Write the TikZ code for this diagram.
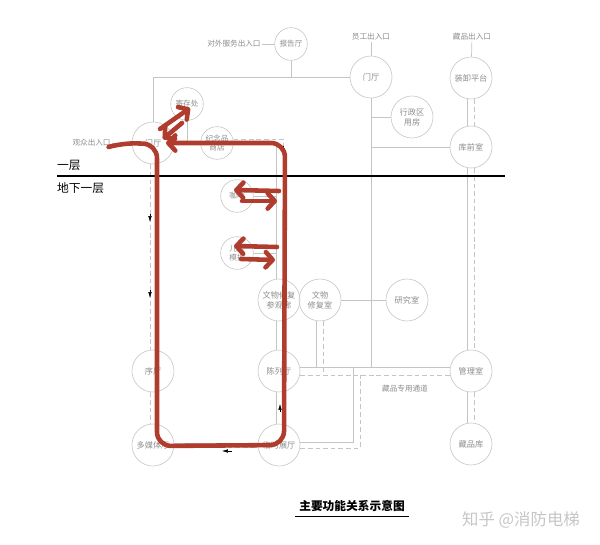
\documentclass[tikz,border=0pt]{standalone}
\usepackage{fontspec}
\setmainfont{Noto Sans CJK SC}
\usetikzlibrary{arrows.meta,calc}

\definecolor{wallgray}{RGB}{196,196,196}
\definecolor{labelgray}{RGB}{140,140,140}
\definecolor{penred}{RGB}{176,60,46}

\tikzset{
  room/.style={circle, draw=wallgray, line width=0.5pt, minimum size=1.26cm,
    inner sep=0pt, align=center, text=labelgray, font=\fontsize{7}{8.5}\selectfont},
  smallroom/.style={room, minimum size=0.98cm, font=\fontsize{6.5}{7.5}\selectfont},
  gate/.style={text=labelgray, font=\fontsize{6.5}{7.5}\selectfont, inner sep=1pt},
  floorname/.style={font=\fontsize{10}{12}\selectfont, inner sep=0pt},
  link/.style={draw=wallgray, line width=0.6pt},
  freight/.style={link, dash pattern=on 4pt off 2.5pt},
  flowmark/.style={black, line width=0.4pt, -{Latex[length=5pt,width=3pt]}},
  pen/.style={draw=penred, line width=3.9pt, line cap=round, line join=round},
  penarrow/.style={pen, -{Straight Barb[length=6pt,width=13pt,round]}},
}

\begin{document}
\begin{tikzpicture}[x=0.03cm, y=-0.03cm]
  \useasboundingbox (0,0) rectangle (600,545);

  % Rooms -- ground floor
  \node[smallroom] (hall-report) at (291,44) {报告厅};
  \node[room] (lobby-staff) at (371,77) {门厅};
  \node[room] (dock) at (471,78) {装卸平台};
  \node[room] (office) at (412,117) {行政区\\用房};
  \node[room] (prestore) at (471,147) {库前室};
  \node[room] (lobby-visitor) at (153,143) {门厅};
  \node[smallroom] (cloak) at (187,104) {寄存处};
  \node[smallroom] (shop) at (217,143) {纪念品\\商店};

  % Rooms -- basement
  \node[smallroom] (cafe) at (237,196) {咖啡};
  \node[smallroom] (kids) at (237,253) {儿童\\模拟};
  \node[room] (restore-view) at (279,300) {文物修复\\参观廊};
  \node[room] (restore) at (320,300) {文物\\修复室};
  \node[room] (research) at (407,300) {研究室};
  \node[room] (prelude) at (153,371) {序厅};
  \node[room] (gallery) at (279,371) {陈列厅};
  \node[room] (manage) at (471,371) {管理室};
  \node[room] (media) at (153,445) {多媒体厅};
  \node[room] (temp) at (279,445) {临时展厅};
  \node[room] (store) at (471,444) {藏品库};

  % Entrances
  \node[gate, anchor=east] (gate-public) at (262,44) {对外服务出入口};
  \node[gate] (gate-staff) at (371,37) {员工出入口};
  \node[gate] (gate-goods) at (472,37) {藏品出入口};
  \node[gate, anchor=east] (gate-visitor) at (112,143) {观众出入口};

  % Links -- ground floor
  \coordinate (ring) at (153,77);
  \draw[link] (gate-public) -- (hall-report);
  \draw[link] (gate-staff) -- (lobby-staff);
  \draw[link] (gate-goods) -- (dock);
  \draw[link] (gate-visitor) -- (lobby-visitor);
  \draw[link] (lobby-visitor) -- (ring) -- (lobby-staff);
  \draw[link] (hall-report) -- (hall-report |- ring);
  \draw[link] (cloak) -- (cloak |- lobby-visitor);
  \draw[link] (lobby-visitor) -- (shop);
  \draw[link] (lobby-staff |- office) -- (office);
  \draw[link] (lobby-staff |- prestore) -- (prestore);
  \draw[link] (lobby-staff) -- ($(lobby-staff)+(0,290)$);

  % -- visitor loop
  \coordinate (corner) at (276,143);
  \coordinate (corner-out) at (283,139);
  \draw[link] (shop) -- (corner) -- (corner |- restore-view.north);
  \draw[freight] ($(shop.east)+(0,-4)$) -- (corner-out) -- (corner-out |- restore-view.north);
  \draw[link] (cafe) -- (cafe -| corner);
  \draw[link] (kids) -- (kids -| corner);
  \draw[link] ($(lobby-visitor.south)+(3,0)$) -- ($(prelude.north)+(3,0)$);
  \draw[link] ($(prelude.south)+(3,0)$) -- ($(media.north)+(3,0)$);
  \draw[freight] ($(lobby-visitor.south)+(-3,0)$) -- ($(prelude.north)+(-3,0)$);
  \draw[freight] ($(prelude.south)+(-3,0)$) -- ($(media.north)+(-3,0)$);
  \draw[link] ($(restore-view.south)+(-3,0)$) -- ($(gallery.north)+(-3,0)$);
  \draw[link] ($(gallery.south)+(-3,0)$) -- ($(temp.north)+(-3,0)$);
  \draw[freight] ($(restore-view.south)+(4,0)$) -- ($(gallery.north)+(4,0)$);
  \draw[freight] ($(gallery.south)+(4,0)$) -- ($(temp.north)+(4,0)$);
  \draw[link] ($(media.east)+(0,-2)$) -- ($(temp.west)+(0,-2)$);
  \draw[freight] ($(media.east)+(0,2)$) -- ($(temp.west)+(0,2)$);

  % -- goods corridor
  \draw[link] ($(gallery.east)+(0,-4)$) -- ($(manage.west)+(0,-4)$);
  \draw[freight] ($(gallery.east)+(0,4)$) -- ($(manage.west)+(0,4)$);
  \draw[link] ($(temp.east)+(0,-3)$) -| ($(gallery.east)+(53,-4)$);
  \draw[freight] ($(temp.east)+(0,3)$) -| ($(gallery.east)+(60,4)$);
  \draw[link] ($(restore.south)+(-3.5,0)$) -- +(0,46);
  \draw[freight] ($(restore.south)+(3.5,0)$) -- +(0,54);
  \draw[link] (restore) -- (research);
  \draw[link] ($(dock.south)+(-3.3,0)$) -- ($(prestore.north)+(-3.3,0)$);
  \draw[link] ($(prestore.south)+(-3.3,0)$) -- ($(manage.north)+(-3.3,0)$);
  \draw[link] ($(manage.south)+(-3.3,0)$) -- ($(store.north)+(-3.3,0)$);
  \draw[freight] ($(dock.south)+(3.3,0)$) -- ($(prestore.north)+(3.3,0)$);
  \draw[freight] ($(prestore.south)+(3.3,0)$) -- ($(manage.north)+(3.3,0)$);
  \draw[freight] ($(manage.south)+(3.3,0)$) -- ($(store.north)+(3.3,0)$);
  \node[gate] (goods-way) at (405,389) {藏品专用通道};

  % Flow marks
  \draw[flowmark] (283,146) -- (283,154);
  \draw[flowmark] (150,214) -- (150,222);
  \draw[flowmark] (150,290) -- (150,298);
  \draw[flowmark] (280,412) -- (280,404);
  \draw[flowmark] (232,451) -- (222,451);

  % Floor split
  \draw[line width=0.9pt] (57,176) -- (505,176);
  \node[floorname, anchor=west] (floor-1) at (57,165) {一层};
  \node[floorname, anchor=west] (floor-b1) at (57,188) {地下一层};

  % Hand drawn route
  \draw[penarrow, rounded corners=0.42cm] (112,146) -- (122,143) -- (157,144)
    -- (157,446) -- (284,445) -- (285,143) -- (166,143);
  \draw[penarrow] (160,129) -- (190,108);
  \draw[penarrow] (182,123) -- (163,139);
  \draw[penarrow] (279,191) -- (234,190);
  \draw[penarrow] (242,201) -- (277,201);
  \draw[penarrow] (277,247) -- (234,246);
  \draw[penarrow] (241,259) -- (275,260);

  % Title
  \node[font=\bfseries\fontsize{10}{12}\selectfont] (title) at (352,506) {主要功能关系示意图};
  \draw[line width=0.9pt] ($(title.south west)+(0,1)$) -- ($(title.south east)+(0,1)$);
  \node[text=gray!45, font=\fontsize{14}{16}\selectfont] (mark) at (521,520) {知乎 @消防电梯};
\end{tikzpicture}
\end{document}
